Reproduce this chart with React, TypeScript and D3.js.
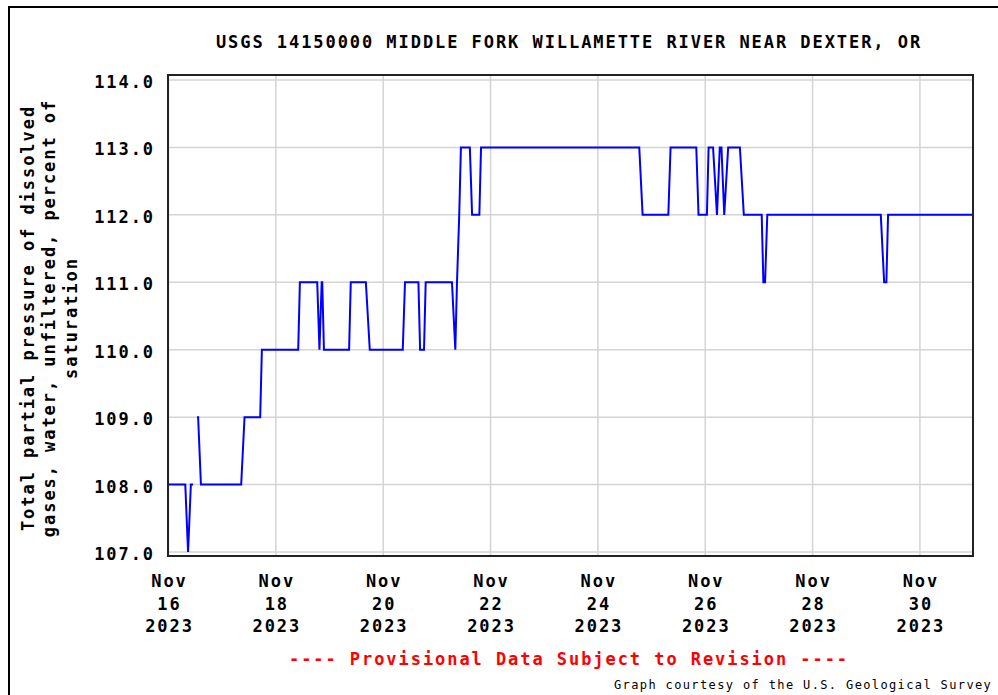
import React from 'react';
import * as d3 from 'd3';

const TITLE = 'USGS 14150000 MIDDLE FORK WILLAMETTE RIVER NEAR DEXTER, OR';
const Y_LABEL_LINES = [
  'Total partial pressure of dissolved',
  'gases, water, unfiltered, percent of',
  'saturation',
];
const PROVISIONAL = '---- Provisional Data Subject to Revision ----';
const COURTESY = 'Graph courtesy of the U.S. Geological Survey';

const Y_TICKS = [107, 108, 109, 110, 111, 112, 113, 114];
const X_TICKS = [
  '2023-11-16 00:00', '2023-11-18 00:00', '2023-11-20 00:00', '2023-11-22 00:00',
  '2023-11-24 00:00', '2023-11-26 00:00', '2023-11-28 00:00', '2023-11-30 00:00',
];
const X_DOMAIN = ['2023-11-16 00:00', '2023-12-01 00:00'];
const Y_DOMAIN = [107, 114];

// Series vertices (null value = data gap)
const TIMES = [
  '2023-11-16 00:00', '2023-11-16 07:30', '2023-11-16 08:45', '2023-11-16 10:00', '2023-11-16 11:00',
  '2023-11-16 12:00',
  '2023-11-16 12:45', '2023-11-16 13:15', '2023-11-16 14:30',
  '2023-11-17 08:30', '2023-11-17 10:00', '2023-11-17 17:00', '2023-11-17 17:45',
  '2023-11-18 10:00', '2023-11-18 10:45', '2023-11-18 18:30', '2023-11-18 19:30',
  '2023-11-18 20:30', '2023-11-18 20:45', '2023-11-18 21:30',
  '2023-11-19 08:45', '2023-11-19 09:30', '2023-11-19 16:15', '2023-11-19 18:00',
  '2023-11-20 08:45', '2023-11-20 09:45', '2023-11-20 15:45', '2023-11-20 16:30',
  '2023-11-20 18:15', '2023-11-20 19:00',
  '2023-11-21 06:45', '2023-11-21 08:15', '2023-11-21 09:00', '2023-11-21 10:00', '2023-11-21 10:45',
  '2023-11-21 14:45', '2023-11-21 15:45', '2023-11-21 19:00', '2023-11-21 19:45',
  '2023-11-24 18:30', '2023-11-24 20:00',
  '2023-11-25 07:30', '2023-11-25 08:30', '2023-11-25 20:00', '2023-11-25 21:00',
  '2023-11-26 00:45', '2023-11-26 01:30', '2023-11-26 03:30', '2023-11-26 05:15',
  '2023-11-26 06:30', '2023-11-26 07:15', '2023-11-26 08:30', '2023-11-26 10:15',
  '2023-11-26 15:30', '2023-11-26 17:15',
  '2023-11-27 01:15', '2023-11-27 02:00', '2023-11-27 02:45', '2023-11-27 03:45',
  '2023-11-29 06:30', '2023-11-29 08:00', '2023-11-29 09:00', '2023-11-29 09:45',
  '2023-11-30 23:45',
];
const VALUES: (number | null)[] = [
  108, 108, 107, 108, 108,
  null,
  109, 109, 108,
  108, 109, 109, 110,
  110, 111, 111, 110,
  111, 111, 110,
  110, 111, 111, 110,
  110, 111, 111, 110,
  110, 111,
  111, 110, 111, 112, 113,
  113, 112, 112, 113,
  113, 112,
  112, 113, 113, 112,
  112, 113, 113, 112,
  113, 113, 112, 113,
  113, 112,
  112, 111, 111, 112,
  112, 111, 111, 112,
  112,
];

const W = 998;
const H = 695;
const BOX = { left: 168, right: 973, top: 75, bottom: 556 };
const MONO = '"DejaVu Sans Mono", "Liberation Mono", monospace';

const parse = d3.timeParse('%Y-%m-%d %H:%M');

export default function App() {
  const x = d3
    .scaleTime()
    .domain(X_DOMAIN.map((d) => parse(d) as Date))
    .range([168.5, 973.6]);
  const y = d3.scaleLinear().domain(Y_DOMAIN).range([552, 80]);

  const data = TIMES.map((t, i) => ({ t: parse(t) as Date, v: VALUES[i] }));
  const line = d3
    .line<{ t: Date; v: number | null }>()
    .defined((d) => d.v !== null)
    .x((d) => x(d.t))
    .y((d) => y(d.v as number));

  const bigText = {
    fontFamily: MONO,
    fontWeight: 700,
    fontSize: 17,
    letterSpacing: 1.94,
  } as React.CSSProperties;

  const fmtMon = d3.timeFormat('%b');
  const fmtDay = d3.timeFormat('%d');
  const fmtYear = d3.timeFormat('%Y');

  return (
    <svg
      width={W}
      height={H}
      style={{ position: 'absolute', left: 0, top: 0, background: '#fff' }}
    >
      <rect x={0} y={0} width={W} height={H} fill="#fff" />
      <rect x={9} y={7} width={1100} height={800} fill="none" stroke="#000" strokeWidth={2} />

      {/* grid */}
      {Y_TICKS.map((v) => (
        <line
          key={'gy' + v}
          x1={BOX.left}
          x2={BOX.right}
          y1={y(v)}
          y2={y(v)}
          stroke="#d4d4d4"
          strokeWidth={1.5}
        />
      ))}
      {X_TICKS.map((t) => {
        const xx = x(parse(t) as Date);
        return (
          <line
            key={'gx' + t}
            x1={xx}
            x2={xx}
            y1={BOX.top}
            y2={BOX.bottom}
            stroke="#d4d4d4"
            strokeWidth={1.5}
          />
        );
      })}

      {/* series */}
      <path d={line(data) || ''} fill="none" stroke="#0000ff" strokeWidth={2} />

      {/* plot box */}
      <rect
        x={BOX.left}
        y={BOX.top}
        width={BOX.right - BOX.left}
        height={BOX.bottom - BOX.top}
        fill="none"
        stroke="#222"
        strokeWidth={2}
      />

      {/* title */}
      <text x={569} y={48} textAnchor="middle" style={bigText} fill="#000">
        {TITLE}
      </text>

      {/* y tick labels */}
      {Y_TICKS.map((v) => (
        <text key={'ty' + v} x={155} y={y(v) + 8} textAnchor="end" style={bigText} fill="#000">
          {v.toFixed(1)}
        </text>
      ))}

      {/* x tick labels */}
      {X_TICKS.map((t) => {
        const d = parse(t) as Date;
        const xx = x(d) + 1;
        return (
          <g key={'tx' + t}>
            <text x={xx} y={587} textAnchor="middle" style={bigText}>{fmtMon(d)}</text>
            <text x={xx} y={610} textAnchor="middle" style={bigText}>{fmtDay(d)}</text>
            <text x={xx} y={632} textAnchor="middle" style={bigText}>{fmtYear(d)}</text>
          </g>
        );
      })}

      {/* y axis title */}
      {Y_LABEL_LINES.map((s, i) => {
        const bx = [34, 55, 77][i];
        return (
          <text
            key={'yl' + i}
            transform={`translate(${bx},318) rotate(-90)`}
            textAnchor="middle"
            style={bigText}
          >
            {s}
          </text>
        );
      })}

      {/* provisional */}
      <text x={569} y={665} textAnchor="middle" style={bigText} fill="#ff0000">
        {PROVISIONAL}
      </text>

      {/* courtesy */}
      <text
        x={614}
        y={689}
        style={{ fontFamily: MONO, fontSize: 12, letterSpacing: 1.37 }}
        fill="#000"
      >
        {COURTESY}
      </text>
    </svg>
  );
}
